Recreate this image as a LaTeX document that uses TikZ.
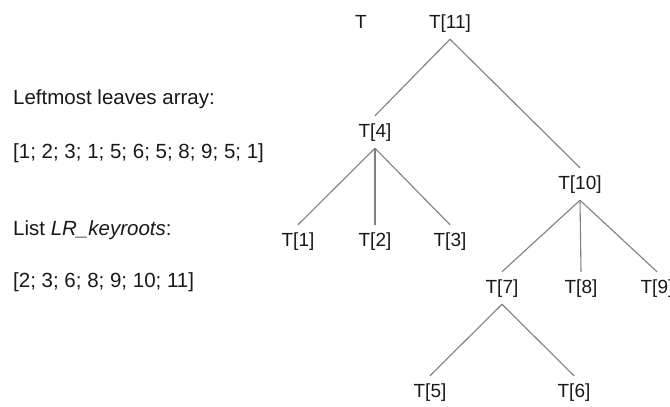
\documentclass[tikz,border=0pt]{standalone}
\usepackage{fontspec}
\setmainfont{Liberation Sans}
\begin{document}
\begin{tikzpicture}[x=1pt,y=-1pt,
  lbl/.style={font=\fontsize{19}{23}\selectfont, text height=14.5pt, text depth=4pt, inner xsep=1pt, inner ysep=6.8pt, text=black!90},
  txt/.style={font=\fontsize{20.5}{24}\selectfont, anchor=base west, inner sep=0pt, text=black!90},
  edge/.style={draw=black!50, line width=1.1pt}]
\useasboundingbox (0,0) rectangle (670,407);
\fill[white] (0,0) rectangle (670,407);
% left text
\node[txt] (l1) at (13,104) {Leftmost leaves array:};
\node[txt] (l2) at (13,158) {[1; 2; 3; 1; 5; 6; 5; 8; 9; 5; 1]};
\node[txt] (l3) at (13,235) {List \textit{LR\_keyroots}:};
\node[txt] (l4) at (13,287) {[2; 3; 6; 8; 9; 10; 11]};
% tree
\node[lbl] (T)   at (361,23) {T};
\node[lbl] (t11) at (450,23) {T[11]};
\node[lbl] (t4)  at (375,132) {T[4]};
\node[lbl] (t10) at (580,184) {T[10]};
\node[lbl] (t1)  at (298,241) {T[1]};
\node[lbl] (t2)  at (375,241) {T[2]};
\node[lbl] (t3)  at (450,241) {T[3]};
\node[lbl] (t7)  at (502,288) {T[7]};
\node[lbl] (t8)  at (581,288) {T[8]};
\node[lbl] (t9)  at (657,288) {T[9]};
\node[lbl] (t5)  at (430,392) {T[5]};
\node[lbl] (t6)  at (574,392) {T[6]};
\draw[edge] (t11.south) -- (t4.north);
\draw[edge] (t11.south) -- (t10.north);
\draw[edge] (t4.south) -- (t1.north);
\draw[edge] (t4.south) -- (t2.north);
\draw[edge] (t4.south) -- (t3.north);
\draw[edge] (t10.south) -- (t7.north);
\draw[edge] (t10.south) -- (t8.north);
\draw[edge] (t10.south) -- (t9.north);
\draw[edge] (t7.south) -- (t5.north);
\draw[edge] (t7.south) -- (t6.north);
\end{tikzpicture}
\end{document}
